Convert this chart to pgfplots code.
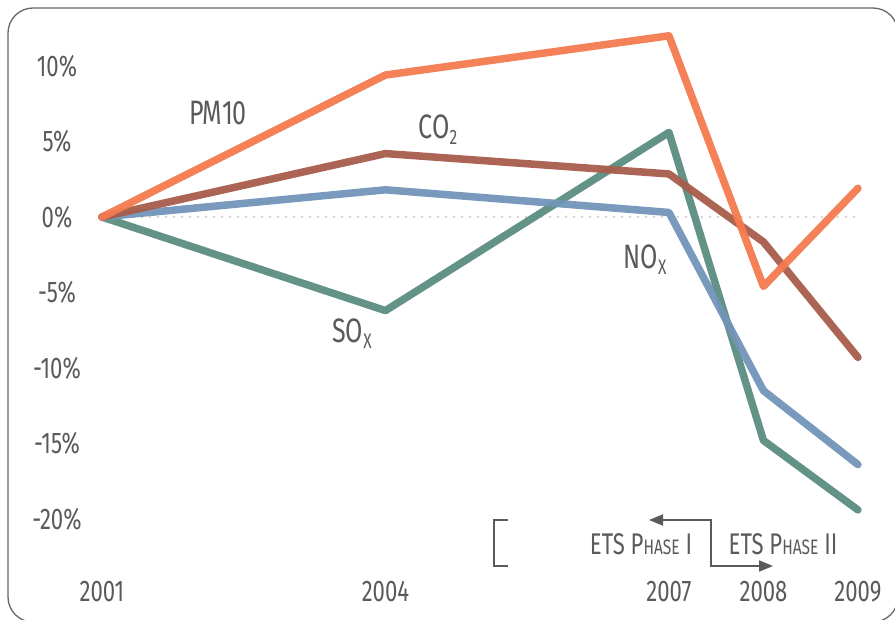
\documentclass[border=0pt]{standalone}
\usepackage{fontspec}
\setmainfont[FakeStretch=0.74]{Fira Sans}
\usepackage{pgfplots}
\pgfplotsset{compat=1.18}
\usetikzlibrary{arrows.meta}

\definecolor{pmcol}{HTML}{F47A50}
\definecolor{cocol}{HTML}{A85C4B}
\definecolor{nocol}{HTML}{7295B8}
\definecolor{socol}{HTML}{5B8C80}
\definecolor{txt}{HTML}{5A5A5A}
\definecolor{frame}{HTML}{666666}

\newcommand{\smallcap}[1]{{\fontsize{21}{21}\selectfont #1}}

\begin{document}
\begin{tikzpicture}
\useasboundingbox (0,0) rectangle (895bp,620bp);
\clip (0,0) rectangle (895bp,620bp);
\begin{axis}[
  at={(0,0)}, anchor=south west,
  scale only axis, width=895bp, height=620bp,
  xmin=1999.921, xmax=2009.392,
  ymin=-26.69, ymax=14.37,
  clip=false,
  axis line style={draw=none},
  tick style={draw=none},
  xtick={2001,2004,2007,2008,2009},
  xticklabels={2001,2004,2007,2008,2009},
  ytick={-20,-15,-10,-5,0,5,10},
  yticklabel={\pgfmathprintnumber{\tick}\%},
  /pgf/number format/assume math mode=true,
  ticklabel style={font=\fontsize{30}{30}\selectfont, text=txt},
  xticklabel style={anchor=center, yshift=28bp},
  yticklabel style={anchor=center, xshift=57bp},
  every axis plot/.append style={line width=7.5bp, line join=round, line cap=round, opacity=0.95},
]
% zero line
\addplot[draw=black!20, line width=2.5bp, line cap=round, dash pattern=on 0bp off 8bp, opacity=1]
  coordinates {(2001,0) (2009,0)};
% SOx
\addplot[socol] coordinates {(2001,0) (2004,-6.2) (2007,5.6) (2008,-14.8) (2009,-19.4)};
% NOx
\addplot[nocol] coordinates {(2001,0) (2004,1.8) (2007,0.3) (2008,-11.5) (2009,-16.4)};
% CO2
\addplot[cocol] coordinates {(2001,0) (2004,4.2) (2007,2.85) (2008,-1.65) (2009,-9.3)};
% PM10
\addplot[pmcol] coordinates {(2001,0) (2004,9.4) (2007,12.0) (2008,-4.6) (2009,1.9)};
\end{axis}

\begin{scope}[x=1bp, y=1bp, font=\fontsize{34}{34}\selectfont, text=txt]
  \node at (218,507) {PM10};
  \node at (438,490) {CO\raisebox{-6bp}{\fontsize{21}{21}\selectfont 2}};
  \node at (645,360) {NO\raisebox{-6bp}{\fontsize{21}{21}\selectfont X}};
  \node at (352,286) {SO\raisebox{-6bp}{\fontsize{21}{21}\selectfont X}};

  \draw[txt, line width=2bp] (508,100) -- (494,100) -- (494,54) -- (508,54);
  \draw[txt, line width=2bp, {Triangle[length=14bp,width=11bp]}-{Triangle[length=14bp,width=11bp]}]
    (649,100) -- (711,100) -- (711,54) -- (773,54);
  \node[font=\fontsize{30}{30}\selectfont] at (641,76) {ETS P\smallcap{HASE} I};
  \node[font=\fontsize{30}{30}\selectfont] at (783,76) {ETS P\smallcap{HASE} II};

  \draw[frame, line width=1.3bp, rounded corners=25bp] (8,-2) rectangle (898,612);
\end{scope}
\end{tikzpicture}
\end{document}
